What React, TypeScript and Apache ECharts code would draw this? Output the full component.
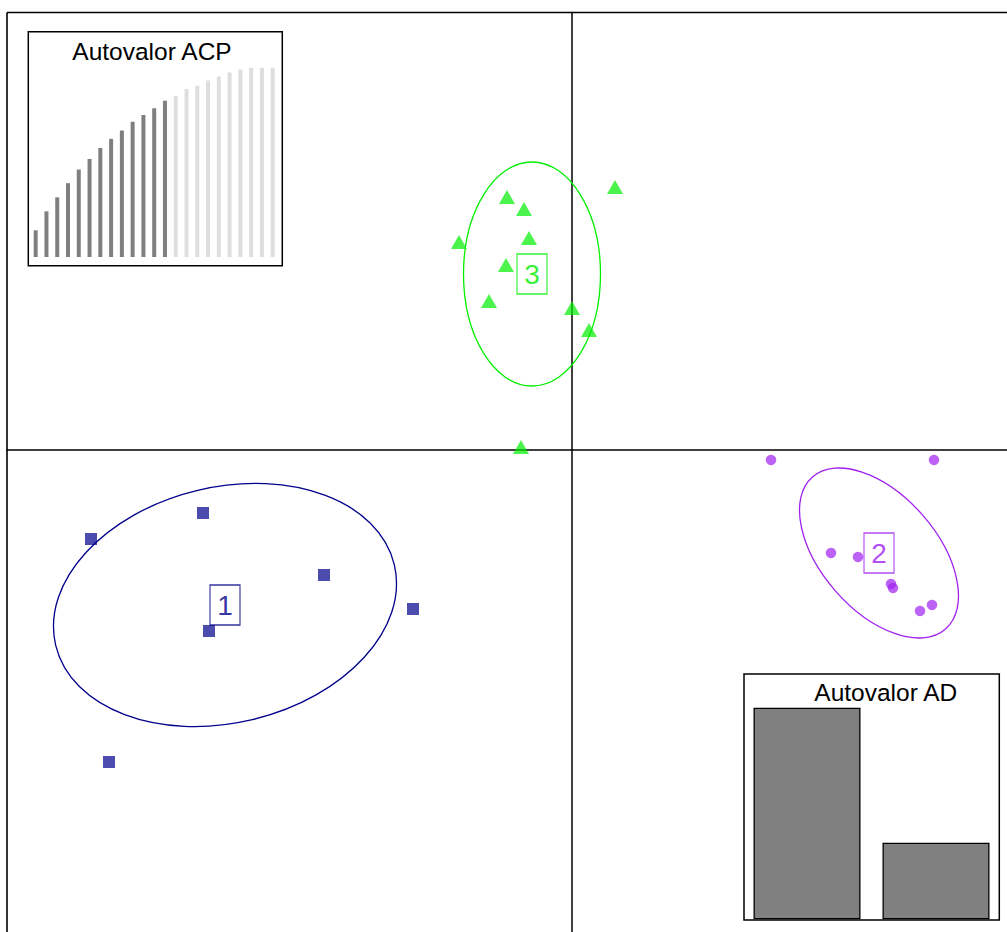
import React, { useEffect, useRef } from "react";
import * as echarts from "echarts";

// ---- data ----
const groupNames = ["1", "2", "3"];
const groupColors = ["#00008B", "#A020F0", "#00EE00"];

const group1X = [-3.685, -4.805, -2.475, -1.585, -3.625, -4.625];
const group1Y = [-0.637, -0.897, -1.257, -1.597, -1.817, -3.127];

const group2X = [1.995, 3.625, 2.595, 2.865, 3.195, 3.215, 3.485, 3.605];
const group2Y = [-0.107, -0.107, -1.037, -1.077, -1.347, -1.387, -1.617, -1.557];

const group3X = [-0.645, -0.475, -0.425, -1.125, -0.655, -0.825, 0.005, 0.175, 0.435, -0.505];
const group3Y = [2.523, 2.403, 2.113, 2.073, 1.843, 1.483, 1.413, 1.193, 2.623, 0.023];

const centroidX = [-3.465, 3.075, -0.395];
const centroidY = [-1.557, -1.037, 1.753];

// ellipse semi-axes and rotation (degrees)
const ellipseA = [1.74, 1.01, 1.12];
const ellipseB = [1.178, 0.578, 0.685];
const ellipseAngle = [13.4, -48.8, 90];

// PCA eigenvalues inset (cumulative %), first 13 retained
const acpValues = [14.1, 24.1, 31.5, 39.0, 46.2, 51.8, 57.6, 62.4, 66.8, 71.4, 75.0, 78.6, 82.6, 85.1, 88.8, 90.5, 93.3, 95.3, 97.4, 99.1, 100, 100, 100];
const acpRetained = 13;

// DA eigenvalues inset
const adValues = [100, 36.2];

const acpTitle = "Autovalor ACP";
const adTitle = "Autovalor AD";

const X_MIN = -5.645;
const X_MAX = 4.355;
const Y_MIN = -4.827;
const Y_MAX = 4.368;

const FONT = "'Liberation Sans', Arial, sans-serif";

export default function App() {
  const ref = useRef<HTMLDivElement>(null);

  useEffect(() => {
    if (!ref.current) return;
    const chart = echarts.init(ref.current, null, { renderer: "svg" });

    const pts = (xs: number[], ys: number[]) => xs.map((x, i) => [x, ys[i]]);
    const ellipseData = centroidX.map((x, i) => [x, centroidY[i], ellipseA[i], ellipseB[i], ellipseAngle[i]]);

    const option: any = {
      animation: false,
      backgroundColor: "#fff",
      grid: [
        { left: 7, top: 12.5, right: 0, bottom: 0, show: false },
        { left: 30.3, top: 67.7, width: 247.8, height: 189.3 },
        { left: 742.5, top: 707.7, width: 258, height: 211.6 },
      ],
      xAxis: [
        {
          type: "value", gridIndex: 0, min: X_MIN, max: X_MAX,
          axisLine: { show: true, onZero: true, lineStyle: { color: "#000", width: 1.5 } },
          axisTick: { show: false }, axisLabel: { show: false }, splitLine: { show: false },
        },
        {
          type: "category", gridIndex: 1, data: acpValues.map((_, i) => String(i + 1)),
          show: false,
        },
        {
          type: "category", gridIndex: 2, data: adValues.map((_, i) => String(i + 1)),
          show: false,
        },
      ],
      yAxis: [
        {
          type: "value", gridIndex: 0, min: Y_MIN, max: Y_MAX,
          axisLine: { show: true, onZero: true, lineStyle: { color: "#000", width: 1.5 } },
          axisTick: { show: false }, axisLabel: { show: false }, splitLine: { show: false },
        },
        { type: "value", gridIndex: 1, min: 0, max: 100, show: false },
        { type: "value", gridIndex: 2, min: 0, max: 100, show: false },
      ],
      graphic: [
        {
          type: "line", z: 1, shape: { x1: 7, y1: 12.5, x2: 1010, y2: 12.5 },
          style: { stroke: "#000", lineWidth: 1.6 },
        },
        {
          type: "line", z: 1, shape: { x1: 7, y1: 12.5, x2: 7, y2: 940 },
          style: { stroke: "#000", lineWidth: 1.6 },
        },
        {
          type: "rect", z: 1, shape: { x: 28.3, y: 31.7, width: 254, height: 234 },
          style: { fill: "#fff", stroke: "#000", lineWidth: 1.5 },
        },
        {
          type: "rect", z: 1, shape: { x: 744, y: 674, width: 255.3, height: 246 },
          style: { fill: "#fff", stroke: "#000", lineWidth: 1.5 },
        },
        {
          type: "text", z: 5, x: 152, y: 51.5,
          style: { text: acpTitle, fill: "#000", font: `24.5px ${FONT}`, textAlign: "center", textVerticalAlign: "middle" },
        },
        {
          type: "text", z: 5, x: 885.8, y: 692.5,
          style: { text: adTitle, fill: "#000", font: `24.5px ${FONT}`, textAlign: "center", textVerticalAlign: "middle" },
        },
      ],
      series: [
        {
          type: "custom", xAxisIndex: 0, yAxisIndex: 0, data: ellipseData, z: 2, silent: true,
          encode: { x: 0, y: 1 },
          renderItem: (params: any, api: any) => {
            const c = api.coord([api.value(0), api.value(1)]);
            const s = api.size([api.value(2), api.value(3)]);
            return {
              type: "ellipse",
              x: c[0], y: c[1],
              rotation: (api.value(4) * Math.PI) / 180,
              shape: { cx: 0, cy: 0, rx: s[0], ry: s[1] },
              style: { fill: "none", stroke: groupColors[params.dataIndex], lineWidth: 1.3 },
            };
          },
        },
        {
          type: "scatter", name: groupNames[0], xAxisIndex: 0, yAxisIndex: 0, z: 3,
          data: pts(group1X, group1Y), symbol: "rect", symbolSize: 12,
          itemStyle: { color: groupColors[0], opacity: 0.7 },
        },
        {
          type: "scatter", name: groupNames[1], xAxisIndex: 0, yAxisIndex: 0, z: 3,
          data: pts(group2X, group2Y), symbol: "circle", symbolSize: 10.5,
          itemStyle: { color: groupColors[1], opacity: 0.7 },
        },
        {
          type: "scatter", name: groupNames[2], xAxisIndex: 0, yAxisIndex: 0, z: 3,
          data: pts(group3X, group3Y), symbol: "triangle", symbolSize: [16, 14],
          itemStyle: { color: groupColors[2], opacity: 0.7 },
        },
        {
          type: "scatter", xAxisIndex: 0, yAxisIndex: 0, z: 4, silent: true,
          symbol: "rect", symbolSize: [30, 40],
          data: centroidX.map((x, i) => ({
            name: groupNames[i],
            value: [x, centroidY[i]],
            itemStyle: { color: "#fff", borderColor: groupColors[i], borderWidth: 1.3 },
            label: { color: groupColors[i] },
          })),
          label: {
            show: true, position: "inside", formatter: (p: any) => p.name,
            fontSize: 28, fontFamily: FONT,
          },
        },
        {
          type: "bar", xAxisIndex: 1, yAxisIndex: 1, z: 3, barWidth: 4, silent: true,
          data: acpValues.map((v, i) => ({
            value: v,
            itemStyle: { color: i < acpRetained ? "#7F7F7F" : "#DEDEDE" },
          })),
        },
        {
          type: "bar", xAxisIndex: 2, yAxisIndex: 2, z: 3, barWidth: 107, silent: true,
          data: adValues,
          itemStyle: { color: "#808080", borderColor: "#000", borderWidth: 1.3 },
        },
      ],
    };

    chart.setOption(option);
    return () => chart.dispose();
  }, []);

  return (
    <div
      ref={ref}
      style={{ position: "absolute", left: 0, top: 0, width: 1007, height: 932 }}
    />
  );
}
